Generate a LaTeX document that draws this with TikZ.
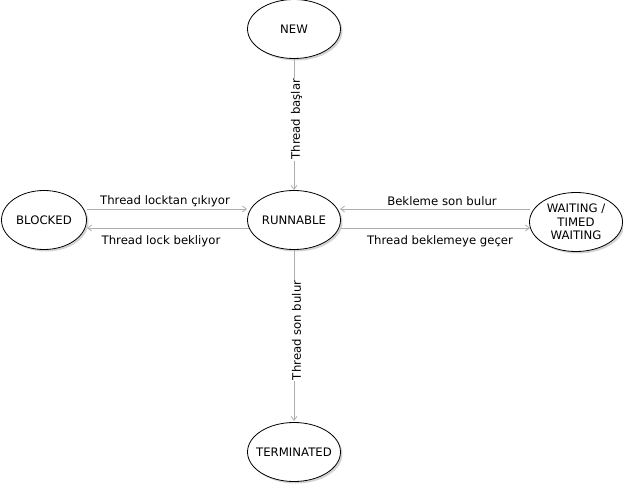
\documentclass[tikz,border=0pt]{standalone}
\usepackage{fontspec}
\setmainfont{DejaVu Sans}
\usetikzlibrary{shadows,arrows.meta,shapes.geometric}
\begin{document}
\begin{tikzpicture}[x=1pt,y=-1pt,
  state/.style={ellipse,draw=black,line width=0.8pt,fill=white,minimum width=#1,minimum height=59pt,inner xsep=-12pt,inner ysep=-3pt,align=center,font=\fontsize{11.7}{13.5}\selectfont,
    drop shadow={shadow xshift=2pt,shadow yshift=-2pt,opacity=0.35,fill=gray}},
  state/.default=93pt,
  conn/.style={draw=black!32,line width=0.8pt,-{Straight Barb[length=4pt,width=6pt]}},
  lbl/.style={font=\fontsize{11.7}{13}\selectfont,inner sep=1pt},
  vlbl/.style={font=\fontsize{11.7}{13}\selectfont,inner sep=1pt,fill=white,rotate=90,yshift=-2.5pt}]
\useasboundingbox (0,0) rectangle (623,484);
\node[state] (new) at (294,29) {NEW};
\node[state] (run) at (294,220) {RUNNABLE};
\node[state=85pt] (blk) at (44,220) {BLOCKED};
\node[state] (wait) at (576,222) {WAITING /\\TIMED\\WAITING};
\node[state] (term) at (294,452) {TERMINATED};
\coordinate (a1) at (294,59);
\coordinate (a2) at (294,190);
\coordinate (b1) at (294,250);
\coordinate (b2) at (294,421);
\coordinate (c1) at (87,209);
\coordinate (c2) at (247,209);
\coordinate (d1) at (249,228);
\coordinate (d2) at (87,228);
\coordinate (e1) at (530,209);
\coordinate (e2) at (340,209);
\coordinate (f1) at (341,228);
\coordinate (f2) at (530,228);
\draw[conn] (a1) -- node[vlbl,pos=0.46] (la) {Thread başlar} (a2);
\draw[conn] (b1) -- node[vlbl,pos=0.47] (lb) {Thread son bulur} (b2);
\draw[conn] (c1) -- (c2);
\node[lbl] (lc) at (165,201) {Thread locktan çıkıyor};
\draw[conn] (d1) -- (d2);
\node[lbl] (ld) at (161,241) {Thread lock bekliyor};
\draw[conn] (e1) -- (e2);
\node[lbl] (le) at (442,201) {Bekleme son bulur};
\draw[conn] (f1) -- (f2);
\node[lbl] (lf) at (440,241) {Thread beklemeye geçer};
\end{tikzpicture}
\end{document}
